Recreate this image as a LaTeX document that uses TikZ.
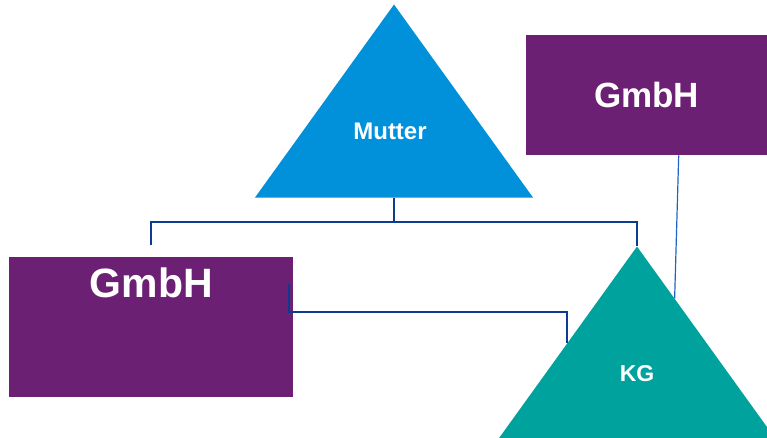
\documentclass[tikz,border=0pt]{standalone}
\usepackage{fontspec}
\setmainfont{Liberation Sans}
\usetikzlibrary{shapes.geometric}
\usetikzlibrary{positioning,calc}

\definecolor{mutterblue}{HTML}{0091DA}
\definecolor{gmbhpurple}{HTML}{6C2074}
\definecolor{kgteal}{HTML}{00A29D}
\definecolor{linkblue}{HTML}{0C3C8F}
\definecolor{thinblue}{HTML}{1F64C4}

\begin{document}
\begin{tikzpicture}[x=1pt,y=-1pt,
    company/.style={isosceles triangle, isosceles triangle stretches, shape border rotate=90,
        minimum width=278pt, minimum height=193pt, inner sep=0pt, anchor=apex},
    companytext/.style={inner sep=0pt, text=white},
    gmbh/.style={rectangle, fill=gmbhpurple, inner sep=0pt, anchor=north west},
    link/.style={draw=linkblue, line width=2pt}]
    \useasboundingbox (0,0) rectangle (767,438);
    \clip (0,0) rectangle (767,438);

    % Define companies
    \node[company, fill=mutterblue] (mutter) at (394,4) {};
    \node[companytext, xshift=-4pt, font=\bfseries\fontsize{24}{24}\selectfont] (muttertext) at ($(mutter.apex)!0.66!(mutter.lower side)$) {Mutter};
    \node[company, fill=kgteal] (kg) at (637,246) {};
    \node[companytext, font=\bfseries\fontsize{23}{23}\selectfont] (kgtext) at ($(kg.apex)!0.66!(kg.lower side)$) {KG};
    \node[gmbh, minimum width=284pt, minimum height=140pt] (gmbhleft) at (9,257) {};
    \node[below=11pt of gmbhleft.north, companytext, font=\bfseries\fontsize{41}{41}\selectfont] (gmbhlefttext) {GmbH};
    \node[gmbh, minimum width=241pt, minimum height=120pt, text=white, font=\bfseries\fontsize{35}{35}\selectfont] (gmbhright) at (526,35) {GmbH};

    % Draw links
    \draw[link] (mutter.lower side) -- ++(0,24) coordinate (bus) -| ([yshift=12pt]gmbhleft.north);
    \draw[link] (bus) -| (kg.apex);
    \draw[link] ([xshift=-4pt,yshift=-27pt]gmbhleft.north east) -- ++(0,28) -| (kg.left side);
    \draw[thinblue, line width=1.2pt] ([xshift=32pt]gmbhright.south) -- ($(kg.apex)!0.27!(kg.right corner)$);
\end{tikzpicture}
\end{document}
